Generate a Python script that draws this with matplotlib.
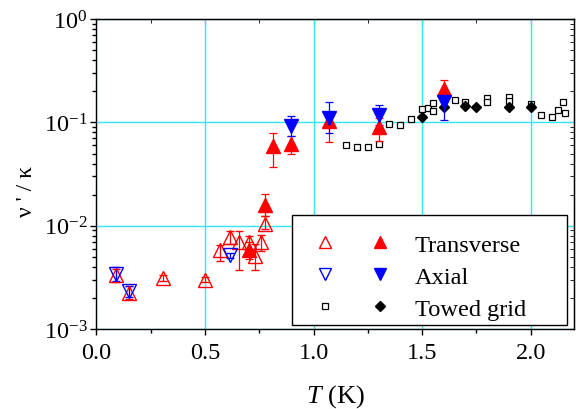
import matplotlib
matplotlib.use("Agg")
from matplotlib import pyplot as plt
from matplotlib.lines import Line2D
from matplotlib.legend_handler import HandlerTuple
import numpy as np

plt.rcParams["font.family"] = ["Liberation Serif", "DejaVu Serif"]
plt.rcParams["mathtext.fontset"] = "custom"
plt.rcParams["mathtext.rm"] = "Liberation Serif"
plt.rcParams["mathtext.it"] = "Liberation Serif:italic"

# transverse, open triangles
trans_open_T = [0.09, 0.15, 0.305, 0.50, 0.568, 0.614, 0.657, 0.703, 0.73, 0.76, 0.776]
trans_open_v = [3.35e-3, 2.25e-3, 3.1e-3, 3.0e-3, 5.8e-3, 7.7e-3, 6.9e-3, 6.9e-3, 5.1e-3, 6.9e-3, 1.04e-2]
trans_open_lo = [2.85e-3, 1.95e-3, 2.9e-3, 2.85e-3, 4.6e-3, 6.6e-3, 3.7e-3, 5.8e-3, 3.7e-3, 5.7e-3, 9.2e-3]
trans_open_hi = [3.85e-3, 2.6e-3, 3.35e-3, 3.2e-3, 6.5e-3, 8.8e-3, 8.9e-3, 8.0e-3, 6.6e-3, 8.2e-3, 1.25e-2]

# transverse, filled triangles
trans_fill_T = [0.703, 0.776, 0.811, 0.898, 1.07, 1.30, 1.602]
trans_fill_v = [5.85e-3, 1.58e-2, 5.86e-2, 6.17e-2, 0.104, 0.0895, 0.21]
trans_fill_lo = [4.8e-3, 1.25e-2, 3.67e-2, 4.95e-2, 0.064, 0.0665, 0.165]
trans_fill_hi = [7.0e-3, 2.02e-2, 7.9e-2, 7.4e-2, 0.127, 0.11, 0.259]

# axial, open triangles
ax_open_T = [0.09, 0.15, 0.617]
ax_open_v = [3.4e-3, 2.33e-3, 5.2e-3]
ax_open_lo = [2.95e-3, 2.05e-3, 4.9e-3]
ax_open_hi = [4.0e-3, 2.6e-3, 5.5e-3]

# axial, filled triangles
ax_fill_T = [0.898, 1.07, 1.30, 1.602]
ax_fill_v = [9.3e-2, 0.111, 0.118, 0.158]
ax_fill_lo = [7.4e-2, 0.079, 0.094, 0.105]
ax_fill_hi = [0.116, 0.158, 0.147, 0.19]

# towed grid
grid_open_T = [1.15, 1.20, 1.25, 1.30, 1.35, 1.40, 1.45, 1.50, 1.527, 1.55, 1.55, 1.60,
               1.65, 1.70, 1.80, 1.80, 1.90, 1.90, 2.00, 2.05, 2.10, 2.125, 2.148, 2.16]
grid_open_v = [0.0608, 0.0583, 0.0583, 0.0617, 0.0964, 0.094, 0.108, 0.135, 0.137, 0.153, 0.128, 0.168,
               0.164, 0.156, 0.172, 0.156, 0.177, 0.16, 0.15, 0.119, 0.113, 0.132, 0.158, 0.122]
grid_fill_T = [1.50, 1.60, 1.70, 1.75, 1.90, 2.00]
grid_fill_v = [0.113, 0.14, 0.145, 0.142, 0.142, 0.142]

labels = ["Transverse", "Axial", "Towed grid"]


def err(v, lo, hi):
    v = np.array(v)
    return [v - np.array(lo), np.array(hi) - v]


fig = plt.figure(figsize=(5.76, 4.10), dpi=100)
ax = fig.add_axes([0.1675, 0.195, 0.829, 0.756])

red = "#ff0000"
blue = "#0000ff"
ms_tri = 9.5

ax.plot(grid_open_T, grid_open_v, "s", ms=5, mfc="white", mec="black", mew=0.9, zorder=3)
ax.plot(grid_fill_T, grid_fill_v, "D", ms=5.5, color="black", zorder=4)

ax.errorbar(trans_open_T, trans_open_v, yerr=err(trans_open_v, trans_open_lo, trans_open_hi),
            fmt="^", ms=ms_tri, mfc="none", mec=red, mew=1.0, ecolor=red, elinewidth=0.9,
            capsize=3, capthick=0.9, zorder=3)
ax.errorbar(ax_open_T, ax_open_v, yerr=err(ax_open_v, ax_open_lo, ax_open_hi),
            fmt="v", ms=ms_tri, mfc="none", mec=blue, mew=1.0, ecolor=blue, elinewidth=0.9,
            capsize=3, capthick=0.9, zorder=3)
ax.errorbar(trans_fill_T, trans_fill_v, yerr=err(trans_fill_v, trans_fill_lo, trans_fill_hi),
            fmt="^", ms=ms_tri, color=red, ecolor=red, elinewidth=0.9,
            capsize=3, capthick=0.9, zorder=5)
ax.errorbar(ax_fill_T, ax_fill_v, yerr=err(ax_fill_v, ax_fill_lo, ax_fill_hi),
            fmt="v", ms=ms_tri, color=blue, ecolor=blue, elinewidth=0.9,
            capsize=3, capthick=0.9, zorder=5)

ax.set_yscale("log")
ax.set_xlim(0, 2.2)
ax.set_ylim(1e-3, 1)
ax.set_xticks([0.0, 0.5, 1.0, 1.5, 2.0])
ax.set_xticks(np.arange(0.25, 2.2, 0.5), minor=True)
ax.set_xticklabels(["0.0", "0.5", "1.0", "1.5", "2.0"])
ax.grid(True, which="major", color="#33e6f0", lw=1.0, zorder=0)
ax.set_axisbelow(True)

ax.tick_params(which="both", direction="out", labelsize=17.5, width=1, colors="black")
ax.tick_params(which="major", length=4.5)
ax.tick_params(which="minor", length=3)
ax.tick_params(axis="y", pad=2)
ax.tick_params(axis="x", pad=5)

for s in ax.spines.values():
    s.set_linewidth(1.0)

top = ax.secondary_xaxis("top")
top.set_xticks([0.0, 0.5, 1.0, 1.5, 2.0])
top.set_xticks(np.arange(0.25, 2.2, 0.5), minor=True)
top.tick_params(which="both", direction="in", labeltop=False)
top.tick_params(which="major", length=4.5)
top.tick_params(which="minor", length=3)
right = ax.secondary_yaxis("right")
right.tick_params(which="both", direction="in", labelright=False)
right.tick_params(which="major", length=4.5)
right.tick_params(which="minor", length=3)

ax.set_xlabel("$\\mathit{T}$ (K)", fontsize=19)
ax.xaxis.set_label_coords(0.5, -0.17)
ax.set_ylabel("ν ' / κ", fontsize=17)
ax.yaxis.set_label_coords(-0.124, 0.447)

handles = [
    (Line2D([], [], ls="", marker="^", ms=8, mfc="none", mec=red, mew=1.0),
     Line2D([], [], ls="", marker="^", ms=9, color=red)),
    (Line2D([], [], ls="", marker="v", ms=8, mfc="none", mec=blue, mew=1.0),
     Line2D([], [], ls="", marker="v", ms=9, color=blue)),
    (Line2D([], [], ls="", marker="s", ms=4, mfc="white", mec="black", mew=0.9),
     Line2D([], [], ls="", marker="D", ms=5, color="black")),
]
leg = ax.legend(handles, labels, handler_map={tuple: HandlerTuple(ndivide=None, pad=-0.073)},
                loc="lower left", bbox_to_anchor=(0.409, 0.013, 0.576, 0.4), mode="expand",
                borderaxespad=0, fontsize=17.6, handlelength=4.56, handletextpad=0.244,
                labelspacing=0.4, borderpad=0.22, fancybox=False, framealpha=1,
                edgecolor="black", title=" ", title_fontsize=3)
leg.get_frame().set_linewidth(1.0)
leg.set_zorder(10)

fig.savefig("out.png", dpi=100)
